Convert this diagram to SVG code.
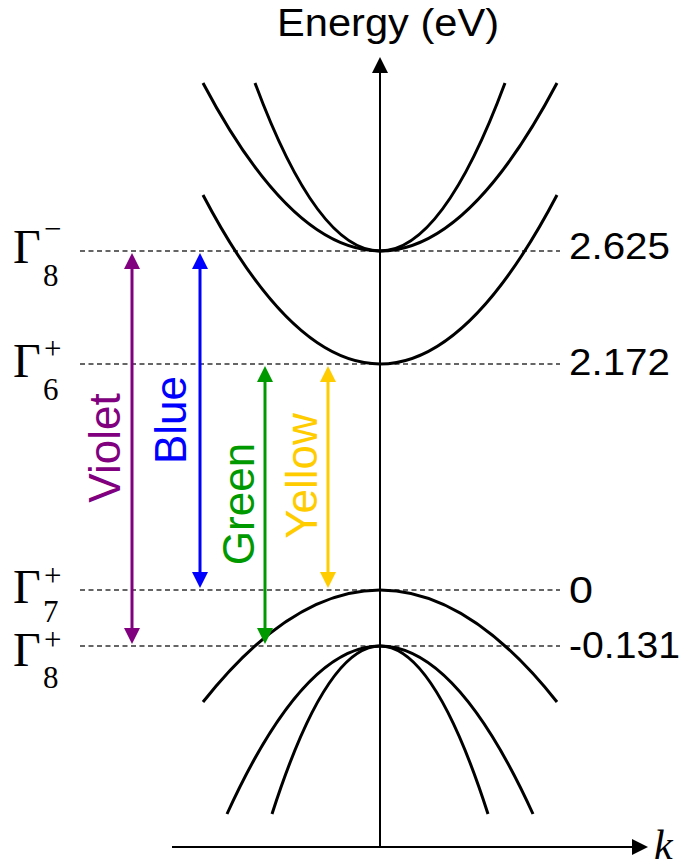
<svg xmlns="http://www.w3.org/2000/svg" width="683" height="868" viewBox="0 0 683 868">
<style>
.band{fill:none;stroke:#000;stroke-width:3}
.dash{stroke:#333;stroke-width:1.5;stroke-dasharray:5 3.5}
.axis{stroke:#000;stroke-width:2}
.sans{font-family:"Liberation Sans",Arial,sans-serif}
.serif{font-family:"Liberation Serif","Times New Roman",serif;fill:#000}
.gam{font-size:48px}
.idx{font-size:31px}
.num{font-size:37px;fill:#000}
.lbl{font-size:44px;text-anchor:middle}
</style>
<defs>
<marker id="ahK" markerUnits="userSpaceOnUse" markerWidth="16" markerHeight="16" viewBox="0 0 16 16" refX="1" refY="8" orient="auto"><path d="M0,0 L16,8 L0,16 z" fill="#000"/></marker>
<marker id="ahV" markerUnits="userSpaceOnUse" markerWidth="16" markerHeight="16" viewBox="0 0 16 16" refX="1" refY="8" orient="auto-start-reverse"><path d="M0,0 L16,8 L0,16 z" fill="#800080"/></marker>
<marker id="ahB" markerUnits="userSpaceOnUse" markerWidth="16" markerHeight="16" viewBox="0 0 16 16" refX="1" refY="8" orient="auto-start-reverse"><path d="M0,0 L16,8 L0,16 z" fill="#0000ff"/></marker>
<marker id="ahG" markerUnits="userSpaceOnUse" markerWidth="16" markerHeight="16" viewBox="0 0 16 16" refX="1" refY="8" orient="auto-start-reverse"><path d="M0,0 L16,8 L0,16 z" fill="#009900"/></marker>
<marker id="ahY" markerUnits="userSpaceOnUse" markerWidth="16" markerHeight="16" viewBox="0 0 16 16" refX="1" refY="8" orient="auto-start-reverse"><path d="M0,0 L16,8 L0,16 z" fill="#ffcc00"/></marker>
</defs>
<rect width="683" height="868" fill="#fff"/>

<g id="levels">
<line class="dash" x1="80" y1="251" x2="560" y2="251"/>
<line class="dash" x1="80" y1="364" x2="560" y2="364"/>
<line class="dash" x1="80" y1="590" x2="560" y2="590"/>
<line class="dash" x1="80" y1="646" x2="560" y2="646"/>
</g>

<g id="axes">
<line class="axis" x1="380" y1="847" x2="380" y2="72" marker-end="url(#ahK)"/>
<line class="axis" x1="172" y1="847" x2="633" y2="847" marker-end="url(#ahK)"/>
<text class="sans" x="277" y="36" font-size="38" textLength="222" lengthAdjust="spacingAndGlyphs">Energy (eV)</text>
<text class="serif" x="654" y="859" font-size="42" font-style="italic">k</text>
</g>

<g id="bands">
<path id="cb-heavy" class="band" d="M203,83 Q380,419 557,83"/>
<path id="cb-light" class="band" d="M255,83 Q380,419 505,83"/>
<path id="cb-low" class="band" d="M203,195 Q380,533 557,195"/>
<path id="vb-top" class="band" d="M203,702 Q380,478 557,702"/>
<path id="vb-outer" class="band" d="M227,814 Q380,478 533,814"/>
<path id="vb-inner" class="band" d="M272,814 Q380,478 488,814"/>
</g>

<g id="connectors">
<line x1="132" y1="268" x2="132" y2="629" stroke="#800080" stroke-width="3" marker-start="url(#ahV)" marker-end="url(#ahV)"/>
<line x1="200" y1="268" x2="200" y2="573" stroke="#0000ff" stroke-width="3" marker-start="url(#ahB)" marker-end="url(#ahB)"/>
<line x1="265" y1="381" x2="265" y2="629" stroke="#009900" stroke-width="3" marker-start="url(#ahG)" marker-end="url(#ahG)"/>
<line x1="328" y1="381" x2="328" y2="573" stroke="#ffcc00" stroke-width="3" marker-start="url(#ahY)" marker-end="url(#ahY)"/>
</g>

<g id="transition-labels">
<text class="sans lbl" fill="#800080" transform="translate(120,448) rotate(-90)">Violet</text>
<text class="sans lbl" fill="#0000ff" transform="translate(186,420) rotate(-90)">Blue</text>
<text class="sans lbl" fill="#009900" transform="translate(254,504) rotate(-90)">Green</text>
<text class="sans lbl" fill="#ffcc00" transform="translate(317,476) rotate(-90)">Yellow</text>
</g>

<g id="level-G8m">
<text class="serif gam" x="13" y="263">Γ</text>
<text class="serif idx" x="43" y="286">8</text>
<text class="serif idx" x="44" y="239">−</text>
<text class="sans num" x="569" y="259" textLength="101" lengthAdjust="spacingAndGlyphs">2.625</text>
</g>
<g id="level-G6p">
<text class="serif gam" x="13" y="377">Γ</text>
<text class="serif idx" x="43" y="400">6</text>
<text class="serif idx" x="44" y="359">+</text>
<text class="sans num" x="569" y="375" textLength="101" lengthAdjust="spacingAndGlyphs">2.172</text>
</g>
<g id="level-G7p">
<text class="serif gam" x="13" y="603">Γ</text>
<text class="serif idx" x="43" y="622">7</text>
<text class="serif idx" x="44" y="586">+</text>
<text class="sans num" x="569" y="603" textLength="24" lengthAdjust="spacingAndGlyphs">0</text>
</g>
<g id="level-G8p">
<text class="serif gam" x="13" y="666">Γ</text>
<text class="serif idx" x="43" y="688">8</text>
<text class="serif idx" x="44" y="650">+</text>
<text class="sans num" x="569" y="658" textLength="111" lengthAdjust="spacingAndGlyphs">-0.131</text>
</g>
</svg>
